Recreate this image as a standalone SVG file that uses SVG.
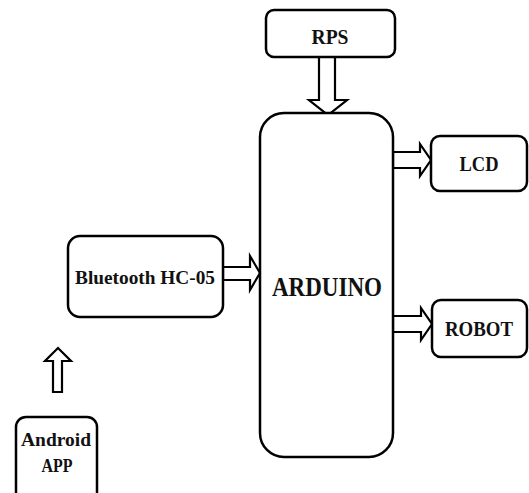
<svg xmlns="http://www.w3.org/2000/svg" width="529" height="493" viewBox="0 0 529 493">
<style>
.box{fill:#fff;stroke:#000;stroke-width:2.5}
.arr{fill:#fff;stroke:#000;stroke-width:2.2;stroke-linejoin:miter}
text{font-family:"Liberation Serif","Times New Roman",serif;font-weight:bold;fill:#111;text-anchor:middle}
</style>
<rect width="529" height="493" fill="#fff"/>
<g id="connectors">
<path class="arr" d="M319,57 L319,100 L309,100 L328,115 L347,100 L335,100 L335,57 Z"/>
<path class="arr" d="M393,152 L420,152 L420,144 L431,160 L420,176 L420,168 L393,168 Z"/>
<path class="arr" d="M393,316 L421,316 L421,308 L432,324 L421,340 L421,332 L393,332 Z"/>
<path class="arr" d="M223,267 L250,267 L250,256 L260,273 L250,290 L250,280 L223,280 Z"/>
<path class="arr" d="M53,392 L53,361 L45,361 L58,348 L71,361 L62,361 L62,392 Z"/>
</g>
<g id="rps"><rect class="box" x="266" y="10" width="129" height="47" rx="8"/><text x="330" y="44" font-size="20" textLength="37" lengthAdjust="spacingAndGlyphs">RPS</text></g>
<g id="arduino"><rect class="box" x="260" y="113" width="133" height="344" rx="24"/><text x="327" y="296" font-size="27" textLength="110" lengthAdjust="spacingAndGlyphs">ARDUINO</text></g>
<g id="lcd"><rect class="box" x="431" y="136" width="96" height="55" rx="9"/><text x="479" y="171" font-size="20" textLength="39" lengthAdjust="spacingAndGlyphs">LCD</text></g>
<g id="robot"><rect class="box" x="432" y="300" width="95" height="57" rx="9"/><text x="479" y="336" font-size="20" textLength="68" lengthAdjust="spacingAndGlyphs">ROBOT</text></g>
<g id="bluetooth"><rect class="box" x="68" y="236" width="155" height="81" rx="12"/><text x="145" y="284" font-size="19" textLength="140" lengthAdjust="spacingAndGlyphs">Bluetooth HC-05</text></g>
<g id="android"><rect class="box" x="16" y="417" width="81" height="90" rx="10"/><text x="56" y="446" font-size="18" textLength="70" lengthAdjust="spacingAndGlyphs">Android</text><text x="57" y="472" font-size="18" textLength="31" lengthAdjust="spacingAndGlyphs">APP</text></g>
</svg>
